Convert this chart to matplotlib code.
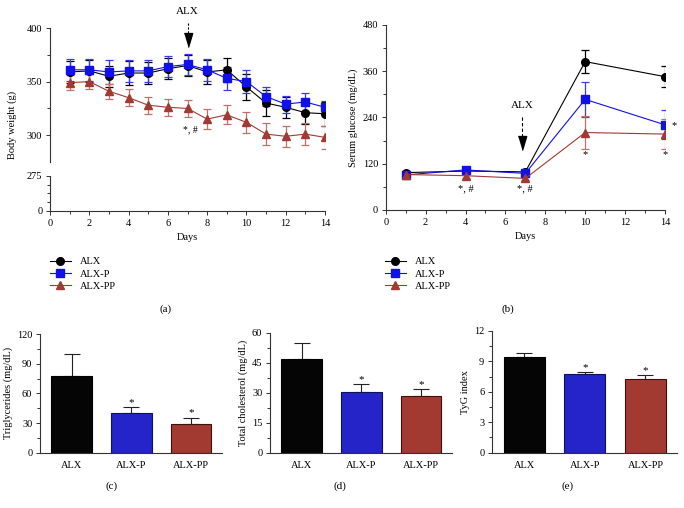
import numpy as np
import matplotlib
matplotlib.use("Agg")
import matplotlib.pyplot as plt
from matplotlib.lines import Line2D

plt.rcParams['font.family'] = ['Liberation Serif', 'DejaVu Serif']
plt.rcParams['font.size'] = 7.5

groups = ['ALX', 'ALX-P', 'ALX-PP']

# body weight (g)
days_bw = [1, 2, 3, 4, 5, 6, 7, 8, 9, 10, 11, 12, 13, 14]
bw_alx = [359, 360, 355, 358, 358, 362, 365, 359, 361, 345, 330, 326, 321, 320]
bw_alx_err = [10, 10, 10, 11, 10, 10, 10, 11, 11, 12, 12, 10, 11, 11]
bw_p = [361, 361, 359, 360, 360, 364, 366, 361, 353, 350, 336, 329, 331, 326]
bw_p_err = [10, 10, 11, 10, 10, 10, 10, 10, 11, 11, 9, 8, 8, 6]
bw_pp = [349, 350, 341, 335, 328, 326, 325, 315, 319, 312, 301, 299, 301, 298]
bw_pp_err = [7, 7, 7, 8, 8, 8, 8, 9, 9, 10, 10, 10, 10, 11]

# serum glucose (mg/dL)
days_glu = [1, 4, 7, 10, 14]
glu_alx = [97, 101, 99, 385, 346]
glu_alx_err = [5, 5, 5, 29, 28]
glu_p = [91, 104, 95, 287, 221]
glu_p_err = [5, 5, 5, 45, 38]
glu_pp = [92, 89, 82, 201, 197]
glu_pp_err = [5, 5, 5, 43, 40]

# bar panels
tg = [78, 40, 29]
tg_err = [22, 6, 6.5]
tc = [47, 30.3, 28.6]
tc_err = [8, 4, 3.2]
tyg = [9.44, 7.76, 7.24]
tyg_err = [0.42, 0.23, 0.42]

c_black = '#000000'
c_blue = '#1010e8'
c_red = '#a13a32'
bar_cols = ['#050505', '#2424c8', '#a33a31']
bar_edges = ['#000000', '#101060', '#401010']

W, H = 684, 508
fig = plt.figure(figsize=(W / 100, H / 100), dpi=100)


def box(l, t, r, b):
    return [l / W, 1 - b / H, (r - l) / W, (b - t) / H]


def style(ax):
    for s in ['top', 'right']:
        ax.spines[s].set_visible(False)
    for s in ['left', 'bottom']:
        ax.spines[s].set_linewidth(0.8)
        ax.spines[s].set_color('#333333')
    ax.tick_params(which='major', length=3, width=0.7, pad=2.5, colors='#333333', labelcolor='black')
    ax.tick_params(which='minor', length=2, width=0.7, colors='#333333')


series_style = [('o', c_black, 'black'), ('s', c_blue, '#3a3ae8'), ('^', c_red, '#c07068')]
tri = [(-0.6, 1), (0.6, 1), (0, -1)]

# ---------- (a) body weight with broken axis
ax_up = fig.add_axes(box(50, 28, 325, 162))
ax_lo = fig.add_axes(box(50, 175.7, 325, 211))
for ax in (ax_up, ax_lo):
    style(ax)
    ax.set_xlim(0, 14)
    ax.patch.set_alpha(0)
ax_up.spines['bottom'].set_visible(False)
ax_up.tick_params(axis='x', which='both', bottom=False, labelbottom=False)
ax_up.set_ylim(275, 400)
ax_up.set_yticks([300, 350, 400])
ax_up.set_yticks([325, 375], minor=True)
ax_lo.set_ylim(0, 275)
ax_lo.set_yticks([0, 275])
ax_lo.set_yticklabels(['0', '275'])
ax_lo.set_yticks([68.75, 137.5, 206.25], minor=True)
ax_lo.set_xticks(range(0, 15, 2))
ax_lo.set_xticks(range(1, 15, 2), minor=True)
ax_lo.set_xlabel('Days', labelpad=4)

for (mk, col, ecol), y, e in zip(series_style, [bw_alx, bw_p, bw_pp], [bw_alx_err, bw_p_err, bw_pp_err]):
    ax_up.errorbar(days_bw, y, yerr=e, fmt='none', ecolor=ecol, elinewidth=0.9, capsize=3, capthick=0.9, zorder=2)
    ax_up.plot(days_bw, y, color=col, lw=0.8, marker=mk, ms=5.5, mfc=col, mec=col, zorder=3)

ax_up.plot([7, 7], [395, 405], ls=(0, (2, 1.5)), color='black', lw=0.8, clip_on=False)
ax_up.plot([7], [388.5], marker=tri, ms=10, color='black', clip_on=False)
ax_up.text(7, 415, 'ALX', ha='center', va='center', fontsize=8)
ax_up.text(7.15, 305, '*, #', ha='center', va='center', fontsize=7)
fig.text(12 / W, 1 - 125 / H, 'Body weight (g)', rotation=90, ha='center', va='center', fontsize=7.5)

# ---------- (b) serum glucose
ax_b = fig.add_axes(box(385.7, 25, 665, 210))
style(ax_b)
ax_b.set_xlim(0, 14)
ax_b.set_ylim(0, 480)
ax_b.set_yticks([0, 120, 240, 360, 480])
ax_b.set_yticks([60, 180, 300, 420], minor=True)
ax_b.set_xticks(range(0, 15, 2))
ax_b.set_xticks(range(1, 15, 2), minor=True)
ax_b.set_xlabel('Days', labelpad=4)
ax_b.set_ylabel('Serum glucose (mg/dL)', labelpad=3)
for (mk, col, ecol), y, e in zip(series_style, [glu_alx, glu_p, glu_pp], [glu_alx_err, glu_p_err, glu_pp_err]):
    ax_b.errorbar(days_glu, y, yerr=e, fmt='none', ecolor=ecol, elinewidth=0.9, capsize=3, capthick=0.9, zorder=2)
    ax_b.plot(days_glu, y, color=col, lw=0.8, marker=mk, ms=5.5, mfc=col, mec=col, zorder=3)
ax_b.plot([6.85, 6.85], [190, 246], ls=(0, (3, 2)), color='black', lw=0.8)
ax_b.plot([6.85], [173], marker=tri, ms=10, color='black')
ax_b.text(6.85, 270, 'ALX', ha='center', va='center', fontsize=8)
for x, y, s in [(4, 55, '*, #'), (7, 55, '*, #'), (10, 143, '*'), (14, 143, '*'), (14.45, 220, '*')]:
    ax_b.text(x, y, s, ha='center', va='center', fontsize=7.5, clip_on=False)

# legends
handles = [Line2D([], [], color=col, lw=0.8, marker=mk, ms=5.5) for mk, col, _ in series_style]
for xl in (50, 385):
    fig.legend(handles, groups, loc='upper left', bbox_to_anchor=(xl / W, 1 - 257 / H),
               frameon=False, borderpad=0, borderaxespad=0, handlelength=2.0,
               handletextpad=0.9, labelspacing=0.3, fontsize=7.5)

# ---------- bar panels
bar_panels = [
    (box(40, 334, 222, 452.7), tg, tg_err, [0, 30, 60, 90, 120], [15, 45, 75, 105], 'Triglycerides (mg/dL)'),
    (box(270, 333, 452, 452.7), tc, tc_err, [0, 15, 30, 45, 60], [7.5, 22.5, 37.5, 52.5], 'Total cholesterol (mg/dL)'),
    (box(492, 331, 677, 452.7), tyg, tyg_err, [0, 3, 6, 9, 12], [1.5, 4.5, 7.5, 10.5], 'TyG index'),
]
for pos, vals, errs, ticks, mticks, lab in bar_panels:
    ax = fig.add_axes(pos)
    style(ax)
    xs = np.arange(len(groups))
    ax.bar(xs, vals, width=0.68, color=bar_cols, edgecolor=bar_edges, linewidth=0.8, zorder=2)
    ax.errorbar(xs, vals, yerr=[np.zeros(3), errs], fmt='none', ecolor='#222222',
                elinewidth=0.8, capsize=6, capthick=0.8, zorder=1)
    for x, v, e in zip(xs[1:], vals[1:], errs[1:]):
        ax.text(x, v + e, '*', ha='center', va='bottom', fontsize=8)
    ax.set_xlim(-0.53, 2.52)
    ax.set_ylim(ticks[0], ticks[-1])
    ax.set_yticks(ticks)
    ax.set_yticks(mticks, minor=True)
    ax.set_xticks(xs)
    ax.set_xticklabels(groups)
    ax.tick_params(axis='x', length=0, pad=6)
    ax.set_ylabel(lab, labelpad=3)

# captions
for s, x, y in [('(a)', 166, 309), ('(b)', 508, 309), ('(c)', 112, 486), ('(d)', 340, 486), ('(e)', 568, 486)]:
    fig.text(x / W, 1 - y / H, s, ha='center', va='center', fontsize=8)

fig.savefig('out.png', dpi=100)
